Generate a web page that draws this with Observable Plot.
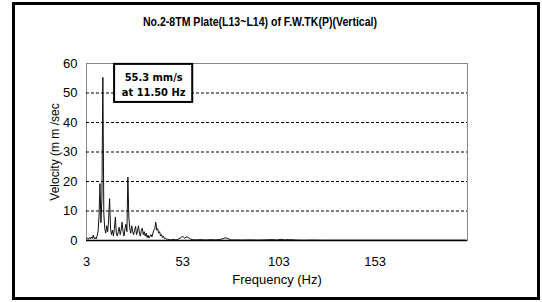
<!DOCTYPE html>
<html>
<head>
<meta charset="utf-8">
<script src="https://cdn.jsdelivr.net/npm/d3@7"></script>
<script src="https://cdn.jsdelivr.net/npm/@observablehq/plot@0.6"></script>
<style>
  html, body { margin: 0; padding: 0; background: #fff; }
  #chart { position: relative; width: 542px; height: 302px; }
</style>
</head>
<body>
<div id="chart"></div>
<script>
const title = "No.2-8TM Plate(L13~L14) of F.W.TK(P)(Vertical)";
const xLabel = "Frequency (Hz)";
const yLabel = "Velocity (m m /sec";
const xTicks = [3, 53, 103, 153];
const yTicks = [0, 10, 20, 30, 40, 50, 60];
const gridValues = [10, 20, 30, 40, 50];

const freqs = [
  3.0, 3.5, 4.0, 4.5, 5.0, 5.5, 6.0, 6.5, 7.0, 7.5, 8.0, 8.5, 9.0, 9.5,
  10.0, 10.5, 11.0, 11.5, 12.0, 12.5, 13.0, 13.5, 14.0, 14.5, 15.0, 15.5,
  16.0, 16.5, 17.0, 17.5, 18.0, 18.5, 19.0, 19.5, 20.0, 20.5, 21.0, 21.5,
  22.0, 22.5, 23.0, 23.5, 24.0, 24.5, 25.0, 25.5, 26.0, 26.5, 27.0, 27.5,
  28.0, 28.5, 29.0, 29.5, 30.0, 30.5, 31.0, 31.5, 32.0, 32.5, 33.0, 33.5,
  34.0, 34.5, 35.0, 35.5, 36.0, 36.5, 37.0, 37.5, 38.0, 38.5, 39.0, 39.5,
  40.0, 40.5, 41.0, 41.5, 42.0, 42.5, 43.0, 43.5, 44.0, 44.5, 45.0,
  46, 47, 48, 49, 50, 51, 52, 53, 54, 55, 56, 57, 58, 60, 62, 64, 66, 68,
  70, 72, 74, 75, 76, 77, 78, 80, 84, 88, 92, 96, 100, 102, 104, 106, 108,
  112, 116, 120, 126, 132, 140, 150, 160, 170, 180, 190, 200
];
const velocity = [
  0.5, 0.8, 0.4, 1.0, 0.6, 1.2, 0.7, 1.8, 0.6, 1.0, 0.5, 1.5, 3.0, 8.0,
  19.3, 6.0, 14.0, 55.3, 9.0, 4.0, 2.5, 5.0, 3.0, 7.0, 14.2, 4.0,
  2.0, 3.5, 1.5, 4.0, 7.9, 2.5, 1.5, 3.0, 4.5, 2.0, 3.5, 6.2,
  3.0, 1.5, 4.0, 5.5, 3.0, 21.5, 8.0, 4.0, 2.5, 5.0, 3.0, 2.0,
  3.5, 4.8, 2.0, 3.0, 5.0, 2.5, 1.5, 3.5, 4.2, 2.0, 3.0, 1.5,
  2.5, 1.0, 1.8, 0.8, 1.5, 2.0, 1.2, 2.5, 3.5, 4.0, 6.2, 3.5,
  4.0, 2.5, 3.0, 1.5, 2.0, 1.0, 1.5, 0.6, 0.8, 0.4, 0.5,
  0.3, 0.2, 0.4, 0.2, 0.3, 0.6, 1.0, 1.4, 0.8, 1.2, 1.0, 0.5, 0.3, 0.2, 0.3, 0.2, 0.2, 0.3,
  0.2, 0.3, 0.6, 0.9, 0.8, 0.5, 0.2, 0.2, 0.15, 0.2, 0.15, 0.2, 0.3, 0.15, 0.4, 0.2, 0.3,
  0.15, 0.1, 0.15, 0.1, 0.1, 0.1, 0.1, 0.1, 0.1, 0.1, 0.1, 0.1
];

const peakLabel = ["55.3 mm/s", "at 11.50 Hz"];
// annotation box in data coordinates
const boxX = [17.6, 58.2];
const boxY = [46.8, 59.7];

const data = freqs.map((f, i) => ({f, v: velocity[i]}));
const font = "'Liberation Sans', Arial, sans-serif";

const plot = Plot.plot({
  width: 542,
  height: 302,
  marginLeft: 86,
  marginRight: 75,
  marginTop: 63,
  marginBottom: 62,
  style: {fontFamily: font, fontSize: "13px", color: "#000", background: "#fff"},
  x: {domain: [3, 201], ticks: xTicks, tickSize: 0, tickPadding: 16, label: null},
  y: {domain: [0, 60], ticks: yTicks, tickSize: 0, tickPadding: 9, label: null},
  marks: [
    Plot.frame({stroke: "#888", strokeWidth: 1}),
    Plot.ruleY(gridValues, {stroke: "#000", strokeWidth: 1, strokeDasharray: "3,2"}),
    Plot.line(data, {x: "f", y: "v", stroke: "#111", strokeWidth: 1}),
    Plot.ruleY([0], {stroke: "#000", strokeWidth: 1.5}),
    Plot.rect([{x1: boxX[0], x2: boxX[1], y1: boxY[0], y2: boxY[1]}],
      {x1: "x1", x2: "x2", y1: "y1", y2: "y2", fill: "#fff", stroke: "#000", strokeWidth: 2}),
    Plot.text([peakLabel.join("\n")], {
      x: (boxX[0] + boxX[1]) / 2, y: (boxY[0] + boxY[1]) / 2,
      fontSize: 11, fontWeight: "bold", lineHeight: 1.45, fill: "#000",
      fontFamily: "'DejaVu Sans Condensed', sans-serif"
    }),
    Plot.text([xLabel], {frameAnchor: "bottom", dy: 43, fontSize: 13, fill: "#000"}),
    Plot.text([yLabel], {frameAnchor: "left", dx: -31, rotate: -90, textAnchor: "middle", fontSize: 12, fill: "#000"})
  ]
});

const svg = d3.select(plot);
svg.append("rect")
  .attr("x", 13.5).attr("y", 3.5).attr("width", 525).attr("height", 295)
  .attr("fill", "none").attr("stroke", "#000").attr("stroke-width", 3);
svg.append("text")
  .attr("x", 260).attr("y", 26)
  .attr("text-anchor", "middle")
  .attr("font-family", "'Liberation Sans', Arial, sans-serif")
  .attr("font-weight", "bold").attr("font-size", 12)
  .attr("textLength", 234).attr("lengthAdjust", "spacingAndGlyphs")
  .attr("fill", "#000")
  .text(title);

document.getElementById("chart").appendChild(plot);
</script>
</body>
</html>
